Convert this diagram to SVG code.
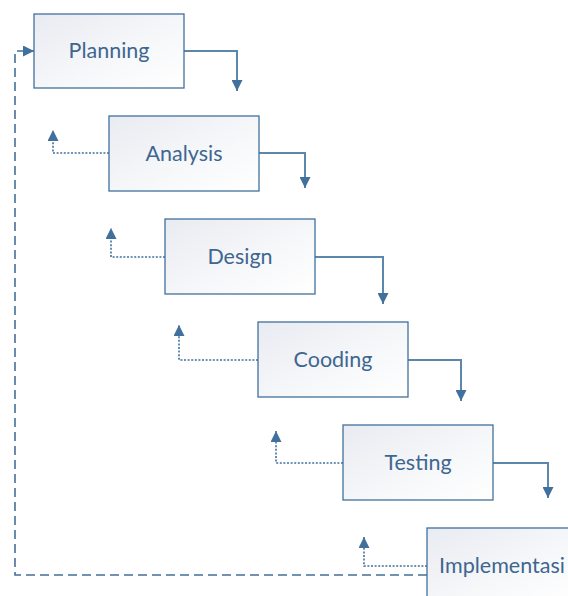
<svg xmlns="http://www.w3.org/2000/svg" width="568" height="596" viewBox="0 0 568 596">
<style>
.box{fill:url(#g);stroke:#41709c;stroke-width:1.3}
.lbl{font-family:Lato,"Open Sans","Liberation Sans",sans-serif;font-size:21.5px;fill:#3e6690;text-anchor:middle}
.solid{fill:none;stroke:#5d86ad;stroke-width:2}
.dot{fill:none;stroke:#41709c;stroke-width:1.6;stroke-dasharray:2 1.6}
.dash{fill:none;stroke:#41709c;stroke-width:1.6;stroke-dasharray:9 5}
</style>
<defs>
<linearGradient id="g" x1="0" y1="0" x2="1" y2="1">
<stop offset="0" stop-color="#e8ebf1"/>
<stop offset="0.6" stop-color="#f7f8fa"/>
<stop offset="1" stop-color="#ffffff"/>
</linearGradient>
<marker id="a" viewBox="0 0 10 10" refX="10" refY="5" markerWidth="11" markerHeight="11" markerUnits="userSpaceOnUse" orient="auto">
<path d="M0,0 L10,5 L0,10 Z" fill="#41709c"/>
</marker>
</defs>
<g id="connectors">
<path class="solid" d="M184,51 H237 V91" marker-end="url(#a)"/>
<path class="solid" d="M259,153 H305 V188" marker-end="url(#a)"/>
<path class="solid" d="M315,257 H383 V304" marker-end="url(#a)"/>
<path class="solid" d="M408,360 H461 V401" marker-end="url(#a)"/>
<path class="solid" d="M493,463 H548 V498" marker-end="url(#a)"/>
<path class="dot" d="M109,153 H53 V130" marker-end="url(#a)"/>
<path class="dot" d="M165,257 H111 V228" marker-end="url(#a)"/>
<path class="dot" d="M258,360 H179 V325" marker-end="url(#a)"/>
<path class="dot" d="M343,463 H276 V431" marker-end="url(#a)"/>
<path class="dot" d="M427,566 H364 V537" marker-end="url(#a)"/>
<path class="dash" d="M427,575 H15 V51 H34" marker-end="url(#a)"/>
</g>
<g id="planning"><rect class="box" x="34" y="14" width="150" height="74"/><text class="lbl" x="109" y="58">Planning</text></g>
<g id="analysis"><rect class="box" x="109" y="116" width="150" height="75"/><text class="lbl" x="184" y="161">Analysis</text></g>
<g id="design"><rect class="box" x="165" y="219" width="150" height="75"/><text class="lbl" x="240" y="264">Design</text></g>
<g id="cooding"><rect class="box" x="258" y="322" width="150" height="75"/><text class="lbl" x="333" y="367">Cooding</text></g>
<g id="testing"><rect class="box" x="343" y="425" width="150" height="75"/><text class="lbl" x="418" y="470">Testing</text></g>
<g id="implementasi"><rect class="box" x="427" y="528" width="150" height="75"/><text class="lbl" x="502" y="573">Implementasi</text></g>
</svg>
